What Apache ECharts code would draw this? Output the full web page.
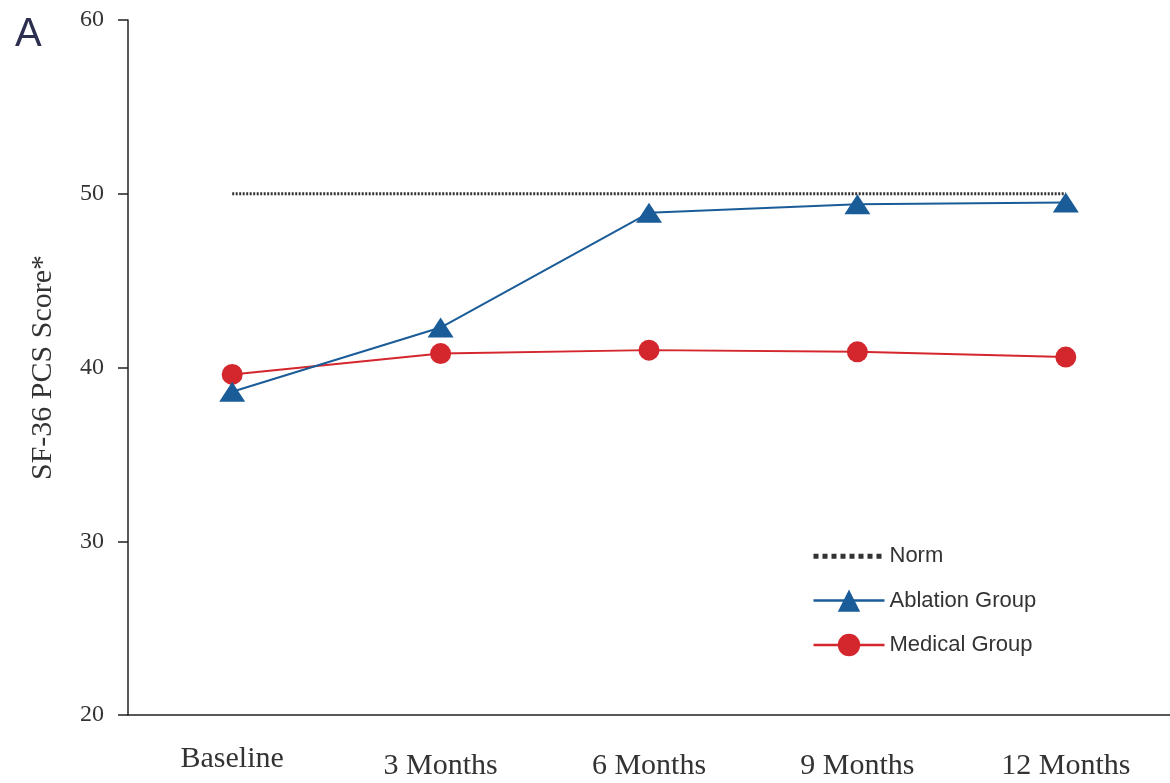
<!DOCTYPE html>
<html>
<head>
<meta charset="utf-8">
<script src="https://cdn.jsdelivr.net/npm/echarts@6/dist/echarts.min.js"></script>
<style>
  html, body { margin: 0; padding: 0; background: #fff; }
  #chart { width: 1170px; height: 783px; }
</style>
</head>
<body>
<div id="chart"></div>
<script>
// Time points of follow-up
const categories = ['Baseline', '3 Months', '6 Months', '9 Months', '12 Months'];
// Mean SF-36 physical component summary scores
const ablationScores = [38.6, 42.3, 48.9, 49.4, 49.5];
const medicalScores = [39.6, 40.8, 41.0, 40.9, 40.6];
const normScores = [50, 50, 50, 50, 50];
const yTicks = { min: 20, max: 60, interval: 10 };

const serif = '"Liberation Serif", "DejaVu Serif", serif';
const sans = '"Liberation Sans", Arial, sans-serif';

const chart = echarts.init(document.getElementById('chart'), null, { renderer: 'canvas' });

chart.setOption({
  backgroundColor: '#ffffff',
  animation: false,
  grid: { left: 128, right: 0, top: 20, bottom: 68 },
  graphic: [{
    type: 'text', left: 15, top: 15,
    style: { text: 'A', font: '40px ' + sans, fill: '#2c2f4f' }
  }],
  legend: {
    orient: 'vertical',
    left: 806, top: 540,
    itemWidth: 71, itemHeight: 28, itemGap: 22,
    textStyle: { fontFamily: sans, fontSize: 22, color: '#333', padding: [0, 0, 0, 0] },
    data: [
      { name: 'Norm', itemStyle: { opacity: 0 }, lineStyle: { width: 5, type: [5, 4] } },
      { name: 'Ablation Group', lineStyle: { width: 2.5 } },
      { name: 'Medical Group', lineStyle: { width: 2.5 } }
    ]
  },
  xAxis: {
    type: 'category',
    data: categories.map((c, i) => i === 0
      ? { value: c, textStyle: { lineHeight: 16 } }
      : c),
    axisLine: { lineStyle: { color: '#222', width: 1.5 } },
    axisTick: { show: false },
    axisLabel: { margin: 36, fontFamily: serif, fontSize: 30, color: '#333' }
  },
  yAxis: {
    type: 'value',
    min: yTicks.min, max: yTicks.max, interval: yTicks.interval,
    name: 'SF-36 PCS Score*',
    nameLocation: 'middle', nameGap: 70,
    nameTextStyle: { fontFamily: serif, fontSize: 30, color: '#333' },
    axisLine: { show: true, lineStyle: { color: '#222', width: 1.5 } },
    axisTick: { show: true, length: 10, lineStyle: { color: '#222', width: 1.5 } },
    axisLabel: { margin: 24, fontFamily: serif, fontSize: 24, color: '#333' },
    splitLine: { show: false }
  },
  series: [
    {
      name: 'Norm', type: 'line', data: normScores,
      symbol: 'none', z: 1,
      lineStyle: { color: '#333', width: 3, type: [2, 1.5] },
      itemStyle: { color: '#333' }
    },
    {
      name: 'Ablation Group', type: 'line', data: ablationScores,
      symbol: 'triangle', symbolSize: [26, 20], z: 3,
      lineStyle: { color: '#1a5c98', width: 2 },
      itemStyle: { color: '#1a5c98' }
    },
    {
      name: 'Medical Group', type: 'line', data: medicalScores,
      symbol: 'circle', symbolSize: 21, z: 2,
      lineStyle: { color: '#d4262d', width: 2 },
      itemStyle: { color: '#d4262d' }
    }
  ]
});
</script>
</body>
</html>
